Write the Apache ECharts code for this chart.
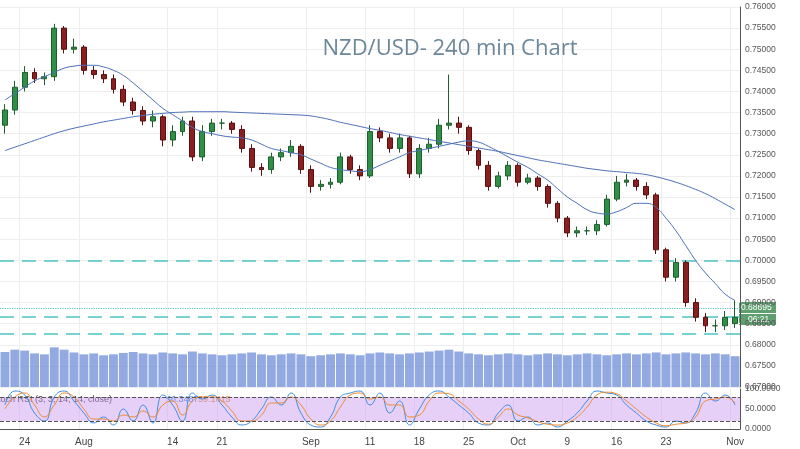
<!DOCTYPE html>
<html><head><meta charset="utf-8">
<script src="https://cdn.jsdelivr.net/npm/echarts@6/dist/echarts.min.js"></script>
<style>html,body{margin:0;padding:0;background:#fff}#c{width:800px;height:449px}</style>
</head><body><div id="c"></div>
<script>
const dates=['Jul 20','Jul 21','Jul 24','Jul 25','Jul 26','Jul 27','Jul 28','Jul 31','Aug 1','Aug 2','Aug 3','Aug 4','Aug 7','Aug 8','Aug 9','Aug 10','Aug 11','Aug 14','Aug 15','Aug 16','Aug 17','Aug 18','Aug 21','Aug 22','Aug 23','Aug 24','Aug 25','Aug 28','Aug 29','Aug 30','Aug 31','Sep 1','Sep 4','Sep 5','Sep 6','Sep 7','Sep 8','Sep 11','Sep 12','Sep 13','Sep 14','Sep 15','Sep 18','Sep 19','Sep 20','Sep 21','Sep 22','Sep 25','Sep 26','Sep 27','Sep 28','Sep 29','Oct 2','Oct 3','Oct 4','Oct 5','Oct 6','Oct 9','Oct 10','Oct 11','Oct 12','Oct 13','Oct 16','Oct 17','Oct 18','Oct 19','Oct 20','Oct 23','Oct 24','Oct 25','Oct 26','Oct 27','Oct 30','Oct 31','Nov 1'];
const tickIdx=[2,8,17,22,31,37,42,47,52,57,62,67,74];
const tickText=['24','Aug','14','21','Sep','11','18','25','Oct','9','16','23','Nov'];
const opens=[0.7320,0.7356,0.7410,0.7445,0.7430,0.7435,0.7550,0.7500,0.7505,0.7450,
0.7440,0.7430,0.7405,0.7375,0.7355,0.7330,0.7340,0.7285,0.7305,0.7330,
0.7245,0.7305,0.7325,0.7325,0.7310,0.7265,0.7220,0.7215,0.7245,0.7255,
0.7270,0.7215,0.7175,0.7180,0.7185,0.7245,0.7215,0.7200,0.7305,0.7290,
0.7265,0.7290,0.7205,0.7265,0.7275,0.7320,0.7325,0.7315,0.7260,0.7225,
0.7175,0.7200,0.7225,0.7185,0.7195,0.7175,0.7135,0.7100,0.7065,0.7070,
0.7070,0.7085,0.7145,0.7185,0.7190,0.7175,0.7155,0.7025,0.6960,0.6995,
0.6900,0.6865,0.6845,0.6845,0.6850];
const closes=[0.7356,0.7410,0.7445,0.7430,0.7435,0.7550,0.7500,0.7505,0.7450,0.7440,
0.7430,0.7405,0.7375,0.7355,0.7330,0.7340,0.7285,0.7305,0.7330,0.7245,
0.7305,0.7325,0.7325,0.7310,0.7265,0.7220,0.7215,0.7245,0.7255,0.7270,
0.7215,0.7175,0.7180,0.7185,0.7245,0.7215,0.7200,0.7305,0.7290,0.7265,
0.7290,0.7205,0.7265,0.7275,0.7320,0.7325,0.7315,0.7260,0.7225,0.7175,
0.7200,0.7225,0.7185,0.7195,0.7175,0.7135,0.7100,0.7065,0.7070,0.7070,
0.7085,0.7145,0.7185,0.7190,0.7175,0.7155,0.7025,0.6960,0.6995,0.6900,
0.6865,0.6845,0.6845,0.6865,0.6865];
const highs=[0.7370,0.7425,0.7460,0.7455,0.7445,0.7560,0.7555,0.7525,0.7510,0.7460,
0.7450,0.7440,0.7415,0.7385,0.7365,0.7355,0.7345,0.7320,0.7340,0.7340,
0.7320,0.7335,0.7335,0.7330,0.7320,0.7275,0.7230,0.7255,0.7265,0.7285,
0.7275,0.7225,0.7190,0.7195,0.7255,0.7250,0.7225,0.7320,0.7315,0.7300,
0.7300,0.7295,0.7275,0.7290,0.7335,0.7440,0.7340,0.7320,0.7265,0.7235,
0.7210,0.7235,0.7230,0.7205,0.7200,0.7180,0.7140,0.7105,0.7080,0.7080,
0.7095,0.7155,0.7200,0.7205,0.7195,0.7185,0.7160,0.7030,0.7005,0.7000,
0.6910,0.6875,0.6860,0.6880,0.6905];
const lows=[0.7300,0.7345,0.7400,0.7420,0.7415,0.7425,0.7490,0.7490,0.7440,0.7430,
0.7420,0.7395,0.7365,0.7345,0.7320,0.7315,0.7270,0.7270,0.7295,0.7235,
0.7235,0.7295,0.7310,0.7300,0.7255,0.7210,0.7200,0.7205,0.7235,0.7245,
0.7205,0.7160,0.7165,0.7170,0.7180,0.7205,0.7190,0.7195,0.7280,0.7255,
0.7255,0.7195,0.7195,0.7255,0.7265,0.7310,0.7300,0.7250,0.7215,0.7165,
0.7170,0.7190,0.7175,0.7180,0.7165,0.7125,0.7090,0.7055,0.7055,0.7060,
0.7060,0.7080,0.7140,0.7175,0.7165,0.7145,0.7015,0.6950,0.6950,0.6890,
0.6855,0.6830,0.6830,0.6835,0.6840];
const maFast=[0.7380,0.7395,0.7410,0.7425,0.7435,0.7445,0.7455,0.7460,0.7462,0.7462,
0.7458,0.7450,0.7438,0.7420,0.7400,0.7380,0.7360,0.7345,0.7330,0.7315,
0.7305,0.7300,0.7295,0.7292,0.7290,0.7285,0.7275,0.7265,0.7260,0.7255,
0.7250,0.7240,0.7230,0.7220,0.7215,0.7212,0.7210,0.7215,0.7225,0.7235,
0.7245,0.7255,0.7260,0.7265,0.7270,0.7275,0.7280,0.7283,0.7280,0.7270,
0.7258,0.7245,0.7232,0.7220,0.7205,0.7190,0.7170,0.7150,0.7135,0.7120,
0.7112,0.7110,0.7115,0.7125,0.7135,0.7135,0.7125,0.7100,0.7070,0.7035,
0.7000,0.6970,0.6945,0.6920,0.6905];
const maSlow=[0.7260,0.7268,0.7276,0.7284,0.7292,0.7300,0.7307,0.7313,0.7318,0.7323,
0.7328,0.7332,0.7336,0.7340,0.7343,0.7346,0.7348,0.7350,0.7351,0.7352,
0.7352,0.7352,0.7352,0.7351,0.7350,0.7349,0.7348,0.7347,0.7346,0.7345,
0.7344,0.7342,0.7338,0.7333,0.7327,0.7322,0.7317,0.7312,0.7308,0.7303,
0.7298,0.7294,0.7290,0.7286,0.7282,0.7278,0.7274,0.7270,0.7266,0.7262,
0.7258,0.7253,0.7248,0.7243,0.7238,0.7234,0.7230,0.7226,0.7222,0.7218,
0.7215,0.7212,0.7210,0.7208,0.7206,0.7203,0.7198,0.7192,0.7185,0.7177,
0.7168,0.7158,0.7146,0.7133,0.7120];
const volumes=[75,80,78,72,70,85,80,74,70,72,68,70,73,75,72,70,74,72,70,76,
72,70,68,70,72,74,70,68,70,72,70,66,68,70,72,70,68,72,74,72,
70,72,74,76,78,80,76,72,70,68,70,72,70,68,70,72,70,68,70,72,
70,68,70,72,70,72,74,70,72,74,72,70,72,70,66];
const stochK=[60,95,85,40,20,80,95,70,40,15,30,10,50,20,60,15,85,60,20,90,
75,85,60,30,10,20,50,80,60,90,40,10,5,30,80,90,95,60,90,40,
70,10,50,85,95,80,60,40,15,10,40,60,20,30,10,15,5,20,40,70,
95,90,85,60,40,20,10,5,20,15,40,90,70,85,60];
const stochD=[50,80,90,60,30,60,90,80,50,25,25,20,35,30,45,30,60,70,35,70,
80,80,70,45,20,20,35,65,65,80,60,25,10,20,55,85,90,75,80,60,
60,30,35,70,90,88,70,50,25,12,30,50,35,28,18,12,10,15,30,55,
85,92,88,70,50,30,15,8,12,15,30,70,75,80,65];
const hLines=[0.7000,0.6887,0.6866,0.6827];

const gridL=-10, gridR=60;
const xCommon=(gi,showLabels)=>({type:'category',gridIndex:gi,data:dates,boundaryGap:true,
 axisLine:{show:gi===2,lineStyle:{color:'#555'}},axisTick:{show:false},
 axisLabel:{show:showLabels,interval:(i)=>tickIdx.includes(i),formatter:(v,i)=>tickText[tickIdx.indexOf(i)]||'',color:'#444',fontSize:10,fontFamily:'Arial'},
 splitLine:{show:gi!==1,interval:(i)=>tickIdx.includes(i),lineStyle:{color:'#eeeeee'}}});
const option={
 animation:false,backgroundColor:'#fff',
 title:{text:'NZD/USD- 240 min Chart',left:445,top:33,textAlign:'center',textStyle:{color:'#6c8799',fontSize:22,fontWeight:'normal',fontFamily:'Open Sans'}},
 grid:[{left:gridL,right:gridR,top:7,height:380},{left:gridL,right:gridR,top:345,height:42},{left:gridL,right:gridR,top:389,height:40}],
 xAxis:[xCommon(0,false),xCommon(1,false),xCommon(2,true)],
 yAxis:[
  {gridIndex:0,position:'right',min:0.670,max:0.760,interval:0.005,
   axisLine:{show:true,lineStyle:{color:'#555'}},axisTick:{show:false},
   axisLabel:{formatter:v=>v.toFixed(5),color:'#555',fontSize:8.5,fontFamily:'Arial',margin:5},
   splitLine:{lineStyle:{color:'#eeeeee'}}},
  {gridIndex:1,show:false,min:0,max:90},
  {gridIndex:2,position:'right',min:0,max:100,interval:50,
   axisLine:{show:true,lineStyle:{color:'#555'}},axisTick:{show:false},
   axisLabel:{formatter:v=>v.toFixed(4),color:'#555',fontSize:8.5,fontFamily:'Arial',margin:5},
   splitLine:{show:false}}],
 series:[
  {type:'bar',xAxisIndex:1,yAxisIndex:1,data:volumes,barCategoryGap:'10%',itemStyle:{color:'rgba(110,140,215,0.75)'},z:1},
  {type:'candlestick',xAxisIndex:0,yAxisIndex:0,barWidth:'55%',
   data:opens.map((o,i)=>[o,closes[i],lows[i],highs[i]]),
   itemStyle:{color:'#2f8f45',color0:'#8a1f1f',borderColor:'#1f5f2f',borderColor0:'#5a1010'},z:5},
  {type:'line',xAxisIndex:0,yAxisIndex:0,data:maFast,symbol:'none',smooth:true,lineStyle:{color:'#4a6fb8',width:1},z:6,
   markLine:{symbol:'none',silent:true,precision:5,label:{show:false},
    data:hLines.map((v,i)=>({yAxis:v,lineStyle:{color:'#4cc3c6',type:i===1?'dotted':[14,8],width:i===1?1.2:1.6}}))}},
  {type:'line',xAxisIndex:0,yAxisIndex:0,data:maSlow,symbol:'none',smooth:true,lineStyle:{color:'#4a6fb8',width:1},z:6},
  {type:'line',xAxisIndex:2,yAxisIndex:2,data:stochK,symbol:'none',smooth:true,lineStyle:{color:'#3d8fe0',width:1},
   markArea:{silent:true,itemStyle:{color:'rgba(200,150,240,0.45)'},data:[[{yAxis:20},{yAxis:80}]]},
   markLine:{symbol:'none',silent:true,label:{show:false},lineStyle:{color:'#555',type:'dashed',width:1},data:[{yAxis:20},{yAxis:80}]}},
  {type:'line',xAxisIndex:2,yAxisIndex:2,data:stochD,symbol:'none',smooth:true,lineStyle:{color:'#f08a30',width:1}}
 ],
 graphic:[
  {type:'rect',shape:{x:739,y:302,width:37,height:11},style:{fill:'#5f9f6f'}},
  {type:'text',left:741,top:303,style:{text:'0.68695',fill:'#fff',fontSize:8.5,fontFamily:'Arial'}},
  {type:'rect',shape:{x:739,y:314,width:37,height:11},style:{fill:'#5f9f6f'}},
  {type:'text',left:748,top:315,style:{text:'06:21',fill:'#fff',fontSize:8.5,fontFamily:'Arial'}},
  {type:'text',left:-8,top:395,style:{text:'Stoch RSI (3, 3, 14, 14, close)',fill:'#444',fontSize:9,fontFamily:'Arial'}},
  {type:'text',left:166,top:395,style:{text:'56.3487',fill:'#3d8fe0',fontSize:9,fontFamily:'Arial'}},
  {type:'text',left:198,top:395,style:{text:'59.1815',fill:'#f08a30',fontSize:9,fontFamily:'Arial'}}
 ]
};
echarts.init(document.getElementById('c')).setOption(option);
</script></body></html>
